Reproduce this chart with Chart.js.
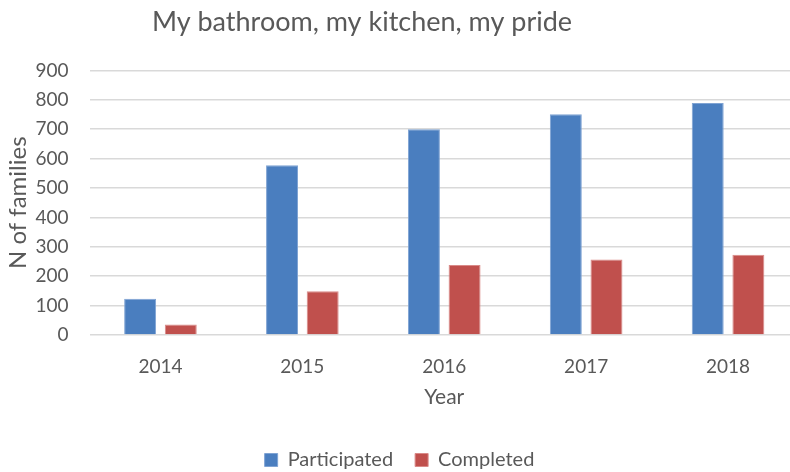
<!DOCTYPE html>
<html>
<head>
<meta charset="utf-8">
<script src="https://cdn.jsdelivr.net/npm/chart.js@4/dist/chart.umd.min.js"></script>
<style>
  html, body { margin: 0; padding: 0; background: #ffffff; overflow: hidden; }
  #wrap { position: relative; width: 800px; height: 480px; }
</style>
</head>
<body>
<div id="wrap"><canvas id="c"></canvas></div>
<script>
const years = ['2014', '2015', '2016', '2017', '2018'];
const participated = [123, 577, 700, 751, 789];
const completed = [36, 149, 238, 257, 273];
const yTicks = [0, 100, 200, 300, 400, 500, 600, 700, 800, 900];

const textColor = '#595959';
const fontFamily = 'Lato, "Open Sans", sans-serif';

const titleShift = {
  id: 'titleShift',
  afterLayout(chart) {
    const t = chart.titleBlock;
    if (t) { t.left = 0; t.right = 724; t.width = 724; }
  }
};

new Chart(document.getElementById('c'), {
  type: 'bar',
  data: {
    labels: years,
    datasets: [
      { label: 'Participated', data: participated, backgroundColor: '#4A7EBF', borderColor: '#7FA3D3', borderWidth: 1 },
      { label: 'Completed', data: completed, backgroundColor: '#C0504D', borderColor: '#D98A88', borderWidth: 1 }
    ]
  },
  options: {
    responsive: true,
    maintainAspectRatio: false,
    animation: false,
    devicePixelRatio: 1,
    datasets: { bar: { categoryPercentage: 0.573, barPercentage: 0.786 } },
    layout: { padding: { left: 0, right: 1, top: 0, bottom: 0 } },
    plugins: {
      title: {
        display: true,
        text: 'My bathroom, my kitchen, my pride',
        color: textColor,
        font: { family: fontFamily, size: 27, weight: 'normal' },
        padding: { top: 6, bottom: 32 }
      },
      legend: {
        position: 'bottom',
        labels: { color: textColor, font: { family: fontFamily, size: 20 }, boxWidth: 13, boxHeight: 13, padding: 22 }
      },
      tooltip: { enabled: false }
    },
    scales: {
      x: {
        grid: { display: false, drawTicks: false },
        border: { display: false },
        ticks: { color: textColor, font: { family: fontFamily, size: 19 }, padding: 20 },
        title: { display: true, text: 'Year', color: textColor, font: { family: fontFamily, size: 21 }, padding: { top: 0, bottom: 18 } },
        afterFit(scale) { scale.height = 93; }
      },
      y: {
        min: 0, max: 900,
        afterBuildTicks(axis) { axis.ticks = yTicks.map(v => ({ value: v })); },
        grid: { color: '#D9D9D9', lineWidth: 1.5, drawTicks: false },
        border: { display: false },
        ticks: { color: textColor, font: { family: fontFamily, size: 19 }, padding: 21 },
        title: { display: true, text: 'N of families', color: textColor, font: { family: fontFamily, size: 24 }, padding: { top: 4, bottom: 0 } },
        afterFit(scale) { scale.width = 89.5; }
      }
    }
  },
  plugins: [titleShift]
});
</script>
</body>
</html>
